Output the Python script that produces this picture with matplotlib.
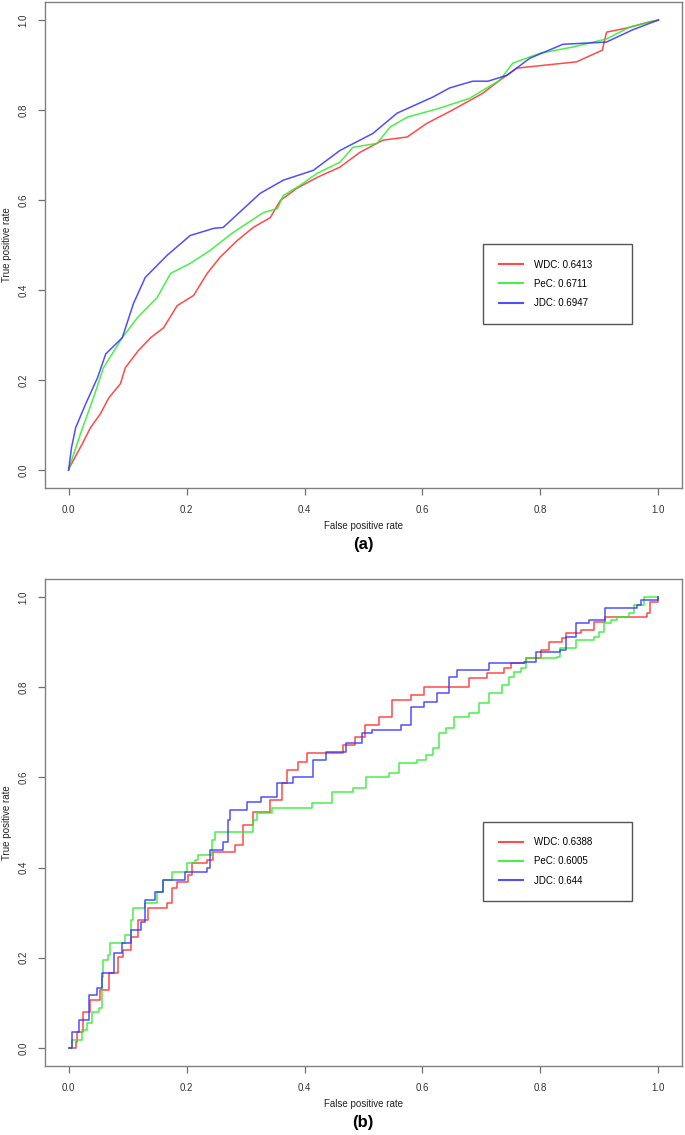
import numpy as np
import matplotlib
matplotlib.use("Agg")
import matplotlib.pyplot as plt

plt.rcParams['font.family'] = ['Liberation Sans', 'DejaVu Sans']

# panel (a) roc points
a_wdc_fpr = [0, 0.003, 0.012, 0.024, 0.037, 0.054, 0.068, 0.088, 0.096, 0.118, 0.139, 0.161, 0.184, 0.212,
             0.235, 0.257, 0.286, 0.313, 0.342, 0.359, 0.387, 0.421, 0.460, 0.494, 0.533, 0.574, 0.607, 0.651,
             0.702, 0.731, 0.760, 0.810, 0.861, 0.905, 0.912, 0.946, 0.985, 1.0]
a_wdc_tpr = [0, 0.009, 0.031, 0.060, 0.094, 0.125, 0.160, 0.192, 0.227, 0.265, 0.294, 0.316, 0.365, 0.388,
             0.437, 0.473, 0.510, 0.539, 0.561, 0.599, 0.626, 0.650, 0.673, 0.706, 0.733, 0.740, 0.770, 0.800,
             0.837, 0.866, 0.893, 0.900, 0.907, 0.933, 0.973, 0.982, 0.996, 1.0]

a_pec_fpr = [0, 0.003, 0.020, 0.042, 0.059, 0.091, 0.117, 0.150, 0.173, 0.206, 0.240, 0.277, 0.330, 0.354,
             0.364, 0.393, 0.421, 0.460, 0.482, 0.523, 0.545, 0.574, 0.629, 0.680, 0.709, 0.731, 0.753, 0.799,
             0.855, 0.912, 0.951, 1.0]
a_pec_tpr = [0, 0.013, 0.080, 0.160, 0.227, 0.294, 0.339, 0.383, 0.437, 0.459, 0.488, 0.526, 0.572, 0.581,
             0.610, 0.633, 0.659, 0.684, 0.717, 0.726, 0.762, 0.784, 0.804, 0.826, 0.849, 0.866, 0.904, 0.926,
             0.940, 0.958, 0.984, 1.0]

a_jdc_fpr = [0, 0.005, 0.012, 0.029, 0.049, 0.063, 0.091, 0.110, 0.130, 0.167, 0.206, 0.246, 0.262, 0.325,
             0.364, 0.415, 0.460, 0.516, 0.557, 0.618, 0.646, 0.685, 0.711, 0.743, 0.782, 0.838, 0.912, 0.956, 1.0]
a_jdc_tpr = [0, 0.050, 0.094, 0.147, 0.205, 0.258, 0.294, 0.370, 0.428, 0.477, 0.521, 0.537, 0.539, 0.615,
             0.644, 0.666, 0.710, 0.748, 0.793, 0.829, 0.849, 0.864, 0.864, 0.877, 0.915, 0.946, 0.951, 0.978, 1.0]

# panel (b)
b_wdc_fpr = [0, 0.003, 0.012, 0.015, 0.024, 0.037, 0.054, 0.068, 0.083, 0.093, 0.105, 0.117, 0.135, 0.167,
             0.176, 0.184, 0.203, 0.209, 0.235, 0.245, 0.282, 0.296, 0.313, 0.341, 0.361, 0.370, 0.389, 0.404,
             0.448, 0.465, 0.485, 0.502, 0.527, 0.549, 0.581, 0.603, 0.679, 0.709, 0.738, 0.750, 0.775, 0.801,
             0.814, 0.836, 0.843, 0.868, 0.890, 0.910, 0.954, 0.980, 0.986, 1.0]
b_wdc_tpr = [0, 0, 0.013, 0.036, 0.080, 0.106, 0.129, 0.166, 0.202, 0.217, 0.246, 0.284, 0.310, 0.321,
             0.355, 0.368, 0.384, 0.410, 0.417, 0.435, 0.450, 0.494, 0.523, 0.550, 0.588, 0.616, 0.634, 0.654,
             0.654, 0.672, 0.690, 0.716, 0.734, 0.772, 0.783, 0.800, 0.820, 0.831, 0.843, 0.854, 0.865, 0.882,
             0.900, 0.909, 0.920, 0.927, 0.945, 0.956, 0.956, 0.965, 0.989, 1.0]

b_pec_fpr = [0, 0.006, 0.023, 0.032, 0.040, 0.051, 0.057, 0.059, 0.066, 0.071, 0.091, 0.096, 0.105, 0.110,
             0.130, 0.150, 0.160, 0.176, 0.198, 0.201, 0.215, 0.220, 0.237, 0.243, 0.248, 0.302, 0.313, 0.319,
             0.345, 0.412, 0.446, 0.483, 0.505, 0.544, 0.561, 0.590, 0.606, 0.617, 0.628, 0.640, 0.654, 0.679,
             0.696, 0.713, 0.735, 0.747, 0.755, 0.767, 0.775, 0.828, 0.834, 0.861, 0.890, 0.899, 0.907, 0.919,
             0.929, 0.950, 0.958, 0.975, 1.0]
b_pec_tpr = [0, 0.018, 0.040, 0.055, 0.080, 0.089, 0.158, 0.195, 0.206, 0.233, 0.233, 0.251, 0.284, 0.310,
             0.321, 0.346, 0.372, 0.390, 0.390, 0.410, 0.417, 0.428, 0.428, 0.461, 0.479, 0.479, 0.506, 0.521,
             0.532, 0.543, 0.568, 0.576, 0.601, 0.609, 0.632, 0.639, 0.650, 0.665, 0.698, 0.710, 0.734, 0.743,
             0.765, 0.787, 0.805, 0.823, 0.834, 0.843, 0.865, 0.867, 0.887, 0.905, 0.911, 0.922, 0.942, 0.949,
             0.956, 0.965, 0.982, 1.0, 1.0]

b_jdc_fpr = [0, 0.006, 0.017, 0.034, 0.048, 0.057, 0.077, 0.091, 0.105, 0.122, 0.130, 0.147, 0.160, 0.194,
             0.198, 0.235, 0.240, 0.262, 0.271, 0.274, 0.302, 0.327, 0.353, 0.380, 0.414, 0.437, 0.471, 0.498,
             0.515, 0.564, 0.581, 0.603, 0.625, 0.645, 0.659, 0.713, 0.772, 0.792, 0.834, 0.843, 0.860, 0.882,
             0.910, 0.954, 0.963, 0.971, 1.0]
b_jdc_tpr = [0, 0.036, 0.062, 0.118, 0.133, 0.166, 0.210, 0.233, 0.262, 0.279, 0.328, 0.346, 0.372, 0.372,
             0.390, 0.399, 0.439, 0.457, 0.506, 0.528, 0.545, 0.557, 0.588, 0.601, 0.639, 0.656, 0.676, 0.698,
             0.705, 0.716, 0.756, 0.767, 0.787, 0.823, 0.838, 0.854, 0.856, 0.878, 0.882, 0.911, 0.942, 0.949,
             0.976, 0.976, 0.982, 0.993, 1.0]

a_labels = ["WDC: 0.6413", "PeC: 0.6711", "JDC: 0.6947"]
b_labels = ["WDC: 0.6388", "PeC: 0.6005", "JDC: 0.644"]
colors = ["#ff2a2a", "#2aee2a", "#3030ff"]
ticks = [0.0, 0.2, 0.4, 0.6, 0.8, 1.0]

fig = plt.figure(figsize=(6.85, 11.35), dpi=100)
ax1 = fig.add_axes([45/685, 1-488/1135, 637/685, 486/1135])
ax2 = fig.add_axes([45/685, 1-1066/1135, 637/685, 487/1135])

panels = [
    (ax1, [(a_wdc_fpr, a_wdc_tpr), (a_pec_fpr, a_pec_tpr), (a_jdc_fpr, a_jdc_tpr)], a_labels, "default", "(a)", 545),
    (ax2, [(b_wdc_fpr, b_wdc_tpr), (b_pec_fpr, b_pec_tpr), (b_jdc_fpr, b_jdc_tpr)], b_labels, "steps-post", "(b)", 1122),
]

for ax, curves, labels, ds, tag, ty in panels:
    for (fx, ty_), lab, c in zip(curves, labels, colors):
        ax.plot(fx, ty_, color=c, lw=1.1, drawstyle=ds, label=lab, alpha=0.85)
    ax.set_xlim(-0.04, 1.04)
    ax.set_ylim(-0.04, 1.04)
    ax.set_xticks(ticks)
    ax.set_yticks(ticks)
    ax.set_xticklabels([f"{t:.1f}" for t in ticks])
    ax.set_yticklabels([f"{t:.1f}" for t in ticks], rotation=90, va="center")
    ax.tick_params(length=5, width=0.9, color="#707070", labelsize=7, labelcolor="#333333", pad=7)
    for s in ax.spines.values():
        s.set_color("#808080")
        s.set_linewidth(1.0)
    ax.set_xlabel("False positive rate", fontsize=7, color="#222222")
    ax.set_ylabel("True positive rate", fontsize=7, color="#222222")
    ax.xaxis.set_label_coords(0.5, -0.068)
    ax.yaxis.set_label_coords(-0.052, 0.5)
    leg = ax.legend(loc="upper left", bbox_to_anchor=(0.688, 0.502, 0.234, 0.0), mode="expand",
                    fontsize=7, handlelength=2.5, handletextpad=1.1, labelspacing=0.95,
                    borderpad=1.6, borderaxespad=0, fancybox=False, framealpha=1)
    leg.get_frame().set_edgecolor("#555555")
    leg.get_frame().set_linewidth(1.0)
    for line in leg.get_lines():
        line.set_linewidth(1.5)
    fig.text(363/685, 1-ty/1135, tag, ha="center", va="center", fontsize=12, fontweight="bold")

fig.savefig("out.png", dpi=100)
